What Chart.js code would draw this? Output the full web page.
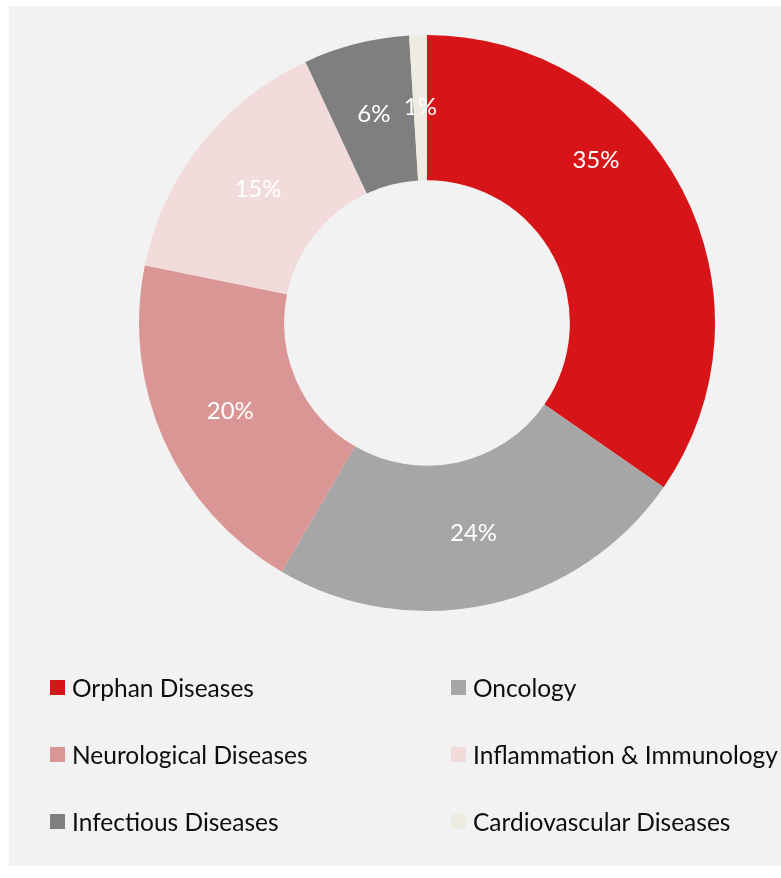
<!DOCTYPE html>
<html>
<head>
<meta charset="utf-8">
<script src="https://cdn.jsdelivr.net/npm/chart.js@4.4.1/dist/chart.umd.min.js"></script>
<style>
  html, body { margin: 0; padding: 0; background: #ffffff; width: 781px; height: 878px; overflow: hidden; }
  #panel { position: absolute; left: 9px; top: 6px; width: 800px; height: 860px; background: #f2f2f2; overflow: hidden; }
  #wrap { position: absolute; left: 118px; top: 17px; width: 600px; height: 600px; }
  #legend { position: absolute; left: 0; top: 0; width: 800px; height: 860px; pointer-events: none; }
  .item { position: absolute; display: flex; align-items: center; font-family: Lato, "Open Sans", sans-serif; font-size: 24.5px; color: #0d0d0d; white-space: nowrap; }
  .sw { width: 15px; height: 15px; margin-right: 7px; }
</style>
</head>
<body>
<div id="panel">
  <div id="wrap"><canvas id="c" width="600" height="600"></canvas></div>
  <div id="legend"></div>
</div>
<script>
const categories = ["Orphan Diseases", "Oncology", "Neurological Diseases", "Inflammation & Immunology", "Infectious Diseases", "Cardiovascular Diseases"];
const shares = [35, 24, 20, 15, 6, 1];
const sliceColors = ["#d71518", "#a6a6a6", "#da9694", "#f2dcdb", "#7f7f7f", "#eeece1"];

// label placement inside each arc: fraction along the arc (0..1) and across the ring (0..1)
const labelPlacement = { 0: { along: 0.37, across: 0.63 } };

const sliceLabels = {
  id: 'sliceLabels',
  afterDatasetsDraw(chart) {
    const ctx = chart.ctx;
    const meta = chart.getDatasetMeta(0);
    ctx.save();
    ctx.fillStyle = '#ffffff';
    ctx.font = '24px Lato, "Open Sans", sans-serif';
    ctx.textAlign = 'center';
    ctx.textBaseline = 'middle';
    meta.data.forEach((arc, i) => {
      const p = arc.getProps(['x', 'y', 'startAngle', 'endAngle', 'innerRadius', 'outerRadius'], true);
      const pl = labelPlacement[i] || { along: 0.5, across: 0.5 };
      const a = p.startAngle + (p.endAngle - p.startAngle) * pl.along;
      const r = p.innerRadius + (p.outerRadius - p.innerRadius) * pl.across;
      ctx.fillText(chart.data.datasets[0].data[i] + '%', p.x + Math.cos(a) * r, p.y + Math.sin(a) * r);
    });
    ctx.restore();
  }
};

const chart = new Chart(document.getElementById('c'), {
  type: 'doughnut',
  data: {
    labels: categories,
    datasets: [{ data: shares, backgroundColor: sliceColors, borderWidth: 0 }]
  },
  options: {
    responsive: false,
    animation: false,
    cutout: '49.6%',
    layout: { padding: 12 },
    plugins: { legend: { display: false }, tooltip: { enabled: false } }
  },
  plugins: [sliceLabels]
});

// HTML legend built from chart data, two columns
const legend = document.getElementById('legend');
const colX = [41, 442];
const rowY = [681, 748, 815];
chart.data.labels.forEach((lab, i) => {
  const d = document.createElement('div');
  d.className = 'item';
  d.style.left = colX[i % 2] + 'px';
  d.style.top = (rowY[Math.floor(i / 2)] - 15) + 'px';
  d.style.height = '30px';
  const sw = document.createElement('span');
  sw.className = 'sw';
  sw.style.background = chart.data.datasets[0].backgroundColor[i];
  const t = document.createElement('span');
  t.textContent = lab;
  d.appendChild(sw); d.appendChild(t);
  legend.appendChild(d);
});
</script>
</body>
</html>
